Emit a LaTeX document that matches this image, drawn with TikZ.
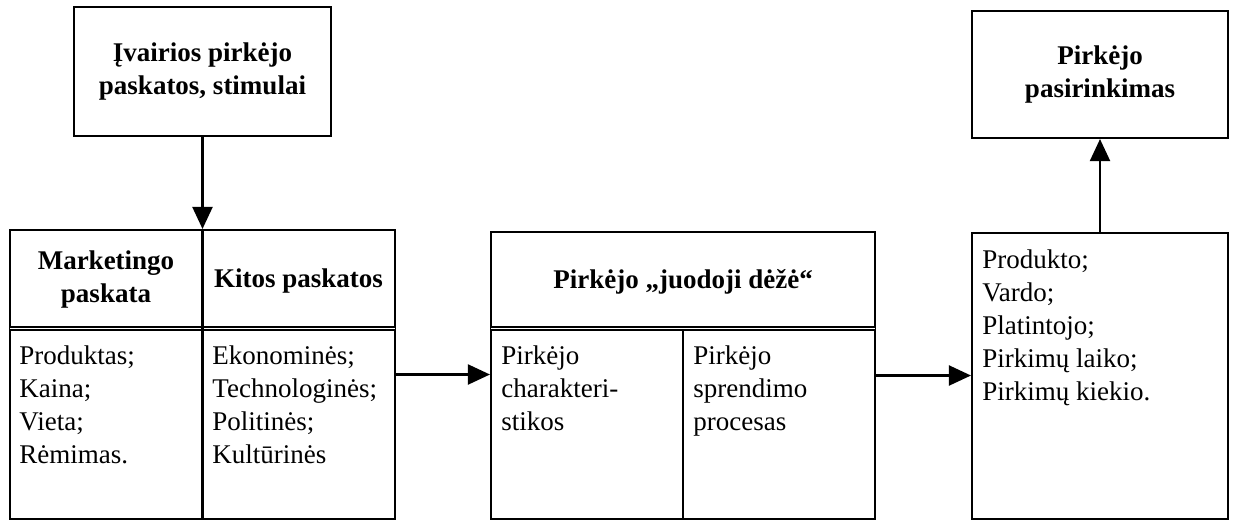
\documentclass[tikz,border=0pt]{standalone}
\usepackage{fontspec}
\setmainfont{Liberation Serif}
\usetikzlibrary{arrows.meta,fit}
\tikzset{
  box/.style={draw, line width=1.05pt, inner sep=0pt},
  head/.style={font=\fontsize{13.5}{16.5}\selectfont\bfseries, align=center, inner sep=0pt},
  item/.style={font=\fontsize{13.5}{16.5}\selectfont, align=left, anchor=north west, inner sep=0pt},
  sep/.style={line width=1.05pt},
  dsep/.style={double, line width=0.7pt, double distance=0.9pt},
  flow/.style={line width=1.05pt, -{Triangle[length=11pt,width=10pt]}},
}

\begin{document}
\begin{tikzpicture}[x=0.5pt,y=-0.5pt]
        \useasboundingbox (0,0) rectangle (1237,521);
        % boxes
        \node[box, fit={(74,7) (331,136)}] (stim) {};
        \node[box, fit={(10,230) (395,519)}] (left) {};
        \node[box, fit={(491,232) (875,519)}] (black) {};
        \node[box, fit={(972,233) (1228,519)}] (resp) {};
        \node[box, fit={(972,11) (1228,138)}] (choice) {};
        % dividers
        \draw[dsep] (10,328.5) -- (395,328.5);
        \draw[sep] (left.north) -- (left.south);
        \draw[dsep] (491,328.5) -- (875,328.5);
        \draw[sep] (683,330) -- (683,519);
        % headings
        \node[head] (stimtxt) at (stim.center) {Įvairios pirkėjo\\paskatos, stimulai};
        \node[head] (mkthead) at (106,279) {Marketingo\\paskata};
        \node[head] (othhead) at (298.5,281) {Kitos paskatos};
        \node[head] (blackhead) at (683,282) {Pirkėjo „juodoji dėžė“};
        \node[head] (choicetxt) at (choice.center) {Pirkėjo\\pasirinkimas};
        % lists
        \node[item] (mktlist) at (19,345) {Produktas;\\Kaina;\\Vieta;\\Rėmimas.};
        \node[item] (othlist) at (212,345) {Ekonominės;\\Technologinės;\\Politinės;\\Kultūrinės};
        \node[item] (chartxt) at (501,345) {Pirkėjo\\charakteri-\\stikos};
        \node[item] (proctxt) at (693,345) {Pirkėjo\\sprendimo\\procesas};
        \node[item] (resplist) at (982,249) {Produkto;\\Vardo;\\Platintojo;\\Pirkimų laiko;\\Pirkimų kiekio.};
        % arrows
        \draw[flow] (stim) -- (left);
        \draw[flow] (left.east) -- (left.east -| black.west);
        \draw[flow] (black.east) -- (black.east -| resp.west);
        \draw[flow] (resp) -- (choice);
\end{tikzpicture}
\end{document}
